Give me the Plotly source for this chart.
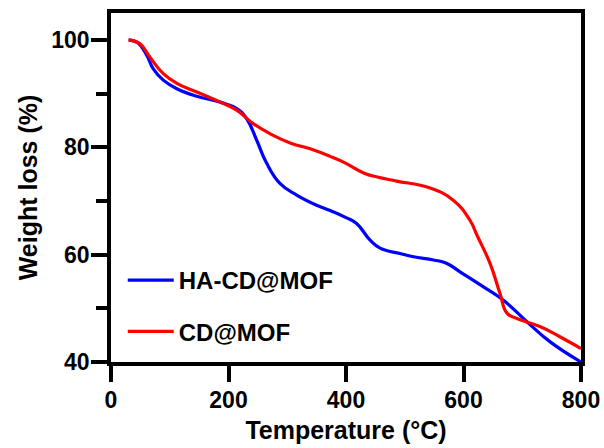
import plotly.graph_objects as go

# Data
temp_ha = [30, 46, 61, 72, 89, 112, 146, 186, 214, 231, 248, 265, 288, 316, 350, 373, 400, 418,
           441, 458, 492, 515, 549, 571, 594, 634, 668, 708, 747, 800]
wl_ha = [100, 99.4, 97.1, 94.6, 92.5, 90.9, 89.5, 88.4, 87.2, 85.3, 81.3, 77.0, 73.2, 71.1, 69.2,
         68.2, 66.9, 65.8, 62.7, 61.2, 60.2, 59.6, 59.0, 58.4, 56.8, 54.0, 51.5, 47.5, 43.8, 40.0]

temp_cd = [30, 49, 66, 89, 112, 146, 186, 214, 242, 271, 305, 339, 373, 400, 430, 455, 486, 543,
           583, 611, 623, 645, 662, 674, 691, 730, 764, 800]
wl_cd = [100, 99.3, 96.8, 93.7, 91.9, 90.3, 88.4, 86.9, 84.4, 82.5, 80.8, 79.7, 78.3, 77.0, 75.2,
         74.4, 73.7, 72.4, 70.1, 66.4, 63.6, 58.4, 52.8, 49.1, 48.1, 46.6, 44.7, 42.5]

x_ticks = [0, 200, 400, 600, 800]
y_ticks = [40, 60, 80, 100]

FONT = "Arial, Liberation Sans, sans-serif"

fig = go.Figure()
fig.add_trace(go.Scatter(x=temp_ha, y=wl_ha, mode="lines", name="HA-CD@MOF",
                         legendgroup="a",
                         line=dict(color="#0000FF", width=3.2, shape="spline", smoothing=1.3)))
fig.add_trace(go.Scatter(x=temp_cd, y=wl_cd, mode="lines", name="CD@MOF",
                         legendgroup="b",
                         line=dict(color="#FF0000", width=3.2, shape="spline", smoothing=1.3)))

axis_common = dict(showline=True, linecolor="black", linewidth=3.5, mirror=True,
                   ticks="outside", ticklen=16, tickwidth=3.5, tickcolor="black",
                   showgrid=False, zeroline=False,
                   tickfont=dict(family=FONT, size=23, color="black", weight="bold"))

fig.update_xaxes(range=[0, 800], tickvals=x_ticks, ticktext=[str(v) for v in x_ticks],
                 ticklabelstandoff=-1,
                 title=dict(text="Temperature (°C)", standoff=10,
                            font=dict(family=FONT, size=25, color="black", weight="bold")),
                 **axis_common)
fig.update_yaxes(range=[40, 105], tickvals=y_ticks, ticktext=[str(v) for v in y_ticks],
                 ticklabelstandoff=-3,
                 minor=dict(tickvals=[50, 70, 90], ticklen=11, tickwidth=3.5, tickcolor="black",
                            ticks="outside"),
                 title=dict(text="Weight loss (%)", standoff=8,
                            font=dict(family=FONT, size=25, color="black", weight="bold")),
                 **axis_common)

fig.update_layout(
    width=604, height=448,
    margin=dict(l=111, r=23, t=13, b=86, autoexpand=False),
    plot_bgcolor="white", paper_bgcolor="white",
    showlegend=True,
    legend=dict(x=0.025, y=0.298, xanchor="left", yanchor="top",
                bgcolor="rgba(0,0,0,0)", tracegroupgap=17, itemwidth=46,
                font=dict(family=FONT, size=24, color="black", weight="bold")),
)

fig.write_html("out.html")
